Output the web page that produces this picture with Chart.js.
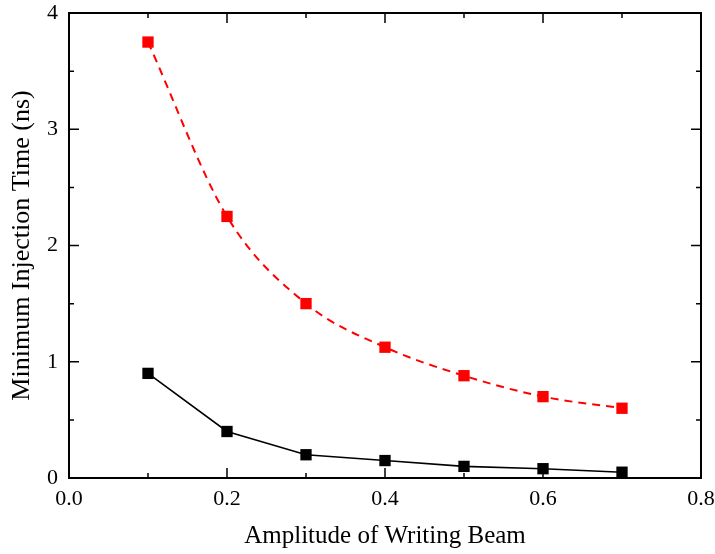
<!DOCTYPE html>
<html>
<head>
<meta charset="utf-8">
<script src="https://cdn.jsdelivr.net/npm/chart.js@4.4.0/dist/chart.umd.min.js"></script>
<style>
  html, body { margin: 0; padding: 0; background: #fff; }
  canvas { display: block; }
</style>
</head>
<body>
<canvas id="chart" width="715" height="554"></canvas>
<script>
// data
const amplitude = [0.1, 0.2, 0.3, 0.4, 0.5, 0.6, 0.7];
const redTimes = [3.75, 2.25, 1.5, 1.125, 0.88, 0.70, 0.60];
const blackTimes = [0.90, 0.40, 0.20, 0.15, 0.10, 0.08, 0.05];
const xTickLabels = ['0.0', '0.2', '0.4', '0.6', '0.8'];
const yTickLabels = ['0', '1', '2', '3', '4'];

const serif = "'Liberation Serif', 'Times New Roman', serif";

// inside tick marks on all four sides, plus the box
const frameTicks = {
    id: 'frameTicks',
    afterDraw(chart) {
        const ctx = chart.ctx;
        const a = chart.chartArea;
        const xs = chart.scales.x;
        const ys = chart.scales.y;
        ctx.save();
        ctx.strokeStyle = '#000';
        ctx.lineWidth = 2;
        ctx.strokeRect(a.left, a.top, a.right - a.left, a.bottom - a.top);
        ctx.lineWidth = 1.5;
        ctx.beginPath();
        for (let i = 0; i <= 8; i++) {
            const v = i / 10;
            const px = xs.getPixelForValue(v);
            const len = i % 2 === 0 ? 10 : 5;
            ctx.moveTo(px, a.bottom); ctx.lineTo(px, a.bottom - len);
            ctx.moveTo(px, a.top); ctx.lineTo(px, a.top + len);
        }
        for (let i = 0; i <= 8; i++) {
            const v = i / 2;
            const py = ys.getPixelForValue(v);
            const len = i % 2 === 0 ? 10 : 5;
            ctx.moveTo(a.left, py); ctx.lineTo(a.left + len, py);
            ctx.moveTo(a.right, py); ctx.lineTo(a.right - len, py);
        }
        ctx.stroke();
        ctx.restore();
    }
};

const ctx = document.getElementById('chart').getContext('2d');
new Chart(ctx, {
    type: 'line',
    data: {
        datasets: [
            {
                label: 'red',
                data: amplitude.map((x, i) => ({ x: x, y: redTimes[i] })),
                borderColor: '#ff0000',
                backgroundColor: '#ff0000',
                borderWidth: 2,
                borderDash: [8, 6],
                tension: 0.4,
                cubicInterpolationMode: 'monotone',
                pointStyle: 'rect',
                pointRadius: 8,
                pointBorderWidth: 0
            },
            {
                label: 'black',
                data: amplitude.map((x, i) => ({ x: x, y: blackTimes[i] })),
                borderColor: '#000000',
                backgroundColor: '#000000',
                borderWidth: 1.6,
                tension: 0,
                pointStyle: 'rect',
                pointRadius: 8,
                pointBorderWidth: 0
            }
        ]
    },
    options: {
        responsive: false,
        animation: false,
        layout: { padding: { left: 0, right: 14, top: 13, bottom: 0 } },
        plugins: {
            legend: { display: false },
            tooltip: { enabled: false }
        },
        scales: {
            x: {
                type: 'linear',
                min: 0,
                max: 0.8,
                afterFit: s => { s.height = 76; s.paddingLeft = 0; s.paddingRight = 0; },
                grid: { display: false, drawTicks: false },
                border: { display: false },
                ticks: {
                    stepSize: 0.2,
                    padding: 8,
                    color: '#000',
                    font: { family: serif, size: 22 },
                    callback: (v, i) => xTickLabels[i]
                },
                title: {
                    display: true,
                    text: 'Amplitude of Writing Beam',
                    color: '#000',
                    font: { family: serif, size: 25 },
                    padding: { top: 0, bottom: 3 }
                }
            },
            y: {
                type: 'linear',
                min: 0,
                max: 4,
                afterFit: s => { s.width = 69; s.paddingTop = 0; s.paddingBottom = 0; },
                grid: { display: false, drawTicks: false },
                border: { display: false },
                ticks: {
                    stepSize: 1,
                    padding: 11,
                    color: '#000',
                    font: { family: serif, size: 22 },
                    callback: (v, i) => yTickLabels[i]
                },
                title: {
                    display: true,
                    text: 'Minimum Injection Time (ns)',
                    color: '#000',
                    font: { family: serif, size: 26 },
                    padding: { top: 7, bottom: 0 }
                }
            }
        }
    },
    plugins: [frameTicks]
});
</script>
</body>
</html>
